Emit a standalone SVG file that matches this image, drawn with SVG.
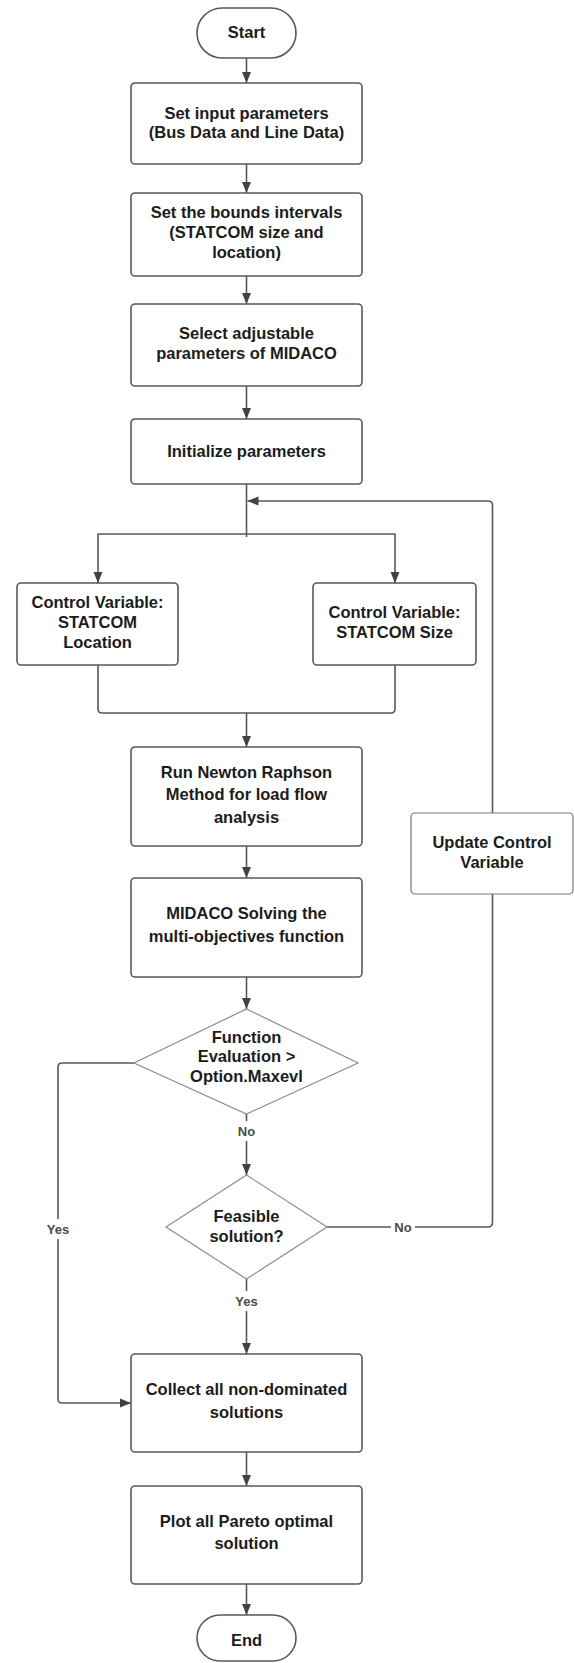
<svg xmlns="http://www.w3.org/2000/svg" width="574" height="1663" viewBox="0 0 574 1663">
<defs>
<marker id="ah" markerUnits="userSpaceOnUse" markerWidth="11" markerHeight="10" refX="11" refY="5" orient="auto">
<path d="M0,0.5 L11,5 L0,9.5 z" fill="#3f4348"/>
</marker>
<style>
.box{fill:#fff;stroke:#55595e;stroke-width:1.6}
.dia{fill:#fff;stroke:#8a8d90;stroke-width:1.2}
.t{font-family:"Liberation Sans",Arial,sans-serif;font-weight:bold;font-size:16.5px;fill:#1c1c1c;text-anchor:middle}
.lbl{font-family:"Liberation Sans",Arial,sans-serif;font-weight:bold;font-size:13px;fill:#4a4a4a;text-anchor:middle}
.c{fill:none;stroke:#55595e;stroke-width:1.6;stroke-linejoin:round}
.a{marker-end:url(#ah)}
</style>
</defs>
<rect width="574" height="1663" fill="#fff"/>
<g id="connectors">
<path class="c a" d="M246.5,58 V83"/>
<path class="c a" d="M246.5,164 V193"/>
<path class="c a" d="M246.5,276 V304"/>
<path class="c a" d="M246.5,386 V419"/>
<path class="c" d="M246.5,484 V537"/>
<path class="c a" d="M246.5,534 H98 V583"/>
<path class="c a" d="M246.5,534 H395 V583"/>
<path class="c" d="M98,665 V709 Q98,713 102,713 H391 Q395,713 395,709 V665"/>
<path class="c a" d="M246.5,713 V747"/>
<path class="c a" d="M246.5,846 V878"/>
<path class="c a" d="M246.5,977 V1009"/>
<path class="c a" d="M246.5,1114 V1175"/>
<path class="c a" d="M134,1063 H62 Q58,1063 58,1067 V1399 Q58,1403 62,1403 H131"/>
<path class="c a" d="M246.5,1279 V1354"/>
<path class="c a" d="M327,1227 H488 Q492.5,1227 492.5,1222 V505 Q492.5,501 488,501 H247.5"/>
<path class="c a" d="M246.5,1452 V1486"/>
<path class="c a" d="M246.5,1584 V1615"/>
<rect x="234" y="1121" width="26" height="20" fill="#fff"/>
<text class="lbl" x="246.5" y="1136">No</text>
<rect x="44" y="1219" width="28" height="20" fill="#fff"/>
<text class="lbl" x="58" y="1234">Yes</text>
<rect x="232" y="1291" width="29" height="20" fill="#fff"/>
<text class="lbl" x="246.5" y="1306">Yes</text>
<rect x="391" y="1218" width="24" height="18" fill="#fff"/>
<text class="lbl" x="403" y="1232">No</text>
</g>
<g id="start">
<rect class="box" x="197" y="8" width="99" height="50" rx="25"/>
<text class="t" x="246.5" y="38">Start</text>
</g>
<g id="input">
<rect class="box" x="131" y="83" width="231" height="81" rx="4"/>
<text class="t" x="246.5" y="119">Set input parameters</text>
<text class="t" x="246.5" y="138">(Bus Data and Line Data)</text>
</g>
<g id="bounds">
<rect class="box" x="131" y="193" width="231" height="83" rx="4"/>
<text class="t" x="246.5" y="218">Set the bounds intervals</text>
<text class="t" x="246.5" y="238">(STATCOM size and</text>
<text class="t" x="246.5" y="258">location)</text>
</g>
<g id="select">
<rect class="box" x="131" y="304" width="231" height="82" rx="4"/>
<text class="t" x="246.5" y="339">Select adjustable</text>
<text class="t" x="246.5" y="359">parameters of MIDACO</text>
</g>
<g id="init">
<rect class="box" x="131" y="419" width="231" height="65" rx="4"/>
<text class="t" x="246.5" y="457">Initialize parameters</text>
</g>
<g id="location">
<rect class="box" x="17" y="583" width="161" height="82" rx="4"/>
<text class="t" x="97.5" y="608">Control Variable:</text>
<text class="t" x="97.5" y="628">STATCOM</text>
<text class="t" x="97.5" y="648">Location</text>
</g>
<g id="size">
<rect class="box" x="313" y="583" width="163" height="82" rx="4"/>
<text class="t" x="394.5" y="618">Control Variable:</text>
<text class="t" x="394.5" y="638">STATCOM Size</text>
</g>
<g id="newton">
<rect class="box" x="131" y="747" width="231" height="99" rx="4"/>
<text class="t" x="246.5" y="778">Run Newton Raphson</text>
<text class="t" x="246.5" y="800">Method for load flow</text>
<text class="t" x="246.5" y="823">analysis</text>
</g>
<g id="midaco">
<rect class="box" x="131" y="878" width="231" height="99" rx="4"/>
<text class="t" x="246.5" y="919">MIDACO Solving the</text>
<text class="t" x="246.5" y="942">multi-objectives function</text>
</g>
<g id="evaluation">
<polygon class="dia" points="246.5,1009 358,1063 246.5,1114 134,1063"/>
<text class="t" x="246.5" y="1043">Function</text>
<text class="t" x="246.5" y="1062">Evaluation &gt;</text>
<text class="t" x="246.5" y="1082">Option.Maxevl</text>
</g>
<g id="feasible">
<polygon class="dia" points="246.5,1175 327,1227 246.5,1279 166,1227"/>
<text class="t" x="246.5" y="1222">Feasible</text>
<text class="t" x="246.5" y="1242">solution?</text>
</g>
<g id="update">
<rect class="box" x="411" y="813" width="162" height="81" rx="4" style="stroke:#777;stroke-width:1.2"/>
<text class="t" x="492" y="848">Update Control</text>
<text class="t" x="492" y="868">Variable</text>
</g>
<g id="collect">
<rect class="box" x="131" y="1354" width="231" height="98" rx="4"/>
<text class="t" x="246.5" y="1395">Collect all non-dominated</text>
<text class="t" x="246.5" y="1418">solutions</text>
</g>
<g id="plot">
<rect class="box" x="131" y="1486" width="231" height="98" rx="4"/>
<text class="t" x="246.5" y="1527">Plot all Pareto optimal</text>
<text class="t" x="246.5" y="1549">solution</text>
</g>
<g id="end">
<rect class="box" x="197" y="1615" width="99" height="46" rx="23"/>
<text class="t" x="246.5" y="1646">End</text>
</g>
</svg>
